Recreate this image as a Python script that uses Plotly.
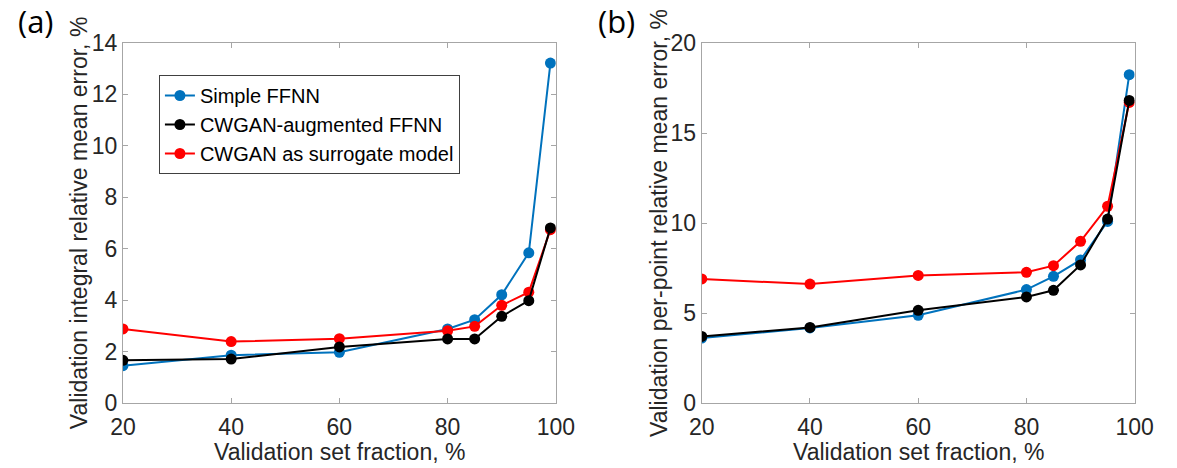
import plotly.graph_objects as go

x_frac = [20, 40, 60, 80, 85, 90, 95, 99]

# (a) Validation integral relative mean error, %
a_simple = [1.45, 1.86, 1.97, 2.88, 3.24, 4.21, 5.84, 13.22]
a_aug = [1.66, 1.71, 2.18, 2.49, 2.49, 3.37, 3.98, 6.81]
a_surr = [2.88, 2.39, 2.50, 2.81, 2.98, 3.80, 4.31, 6.74]

# (b) Validation per-point relative mean error, %
b_simple = [3.61, 4.17, 4.87, 6.30, 7.04, 7.95, 10.09, 18.24]
b_aug = [3.70, 4.20, 5.15, 5.89, 6.26, 7.67, 10.22, 16.81]
b_surr = [6.89, 6.61, 7.09, 7.26, 7.63, 8.98, 10.93, 16.70]

names = ["Simple FFNN", "CWGAN-augmented FFNN", "CWGAN as surrogate model"]
colors = ["#0072BD", "#000000", "#FF0000"]

fig = go.Figure()

FONT = "Liberation Sans"

def add_series(xaxis, yaxis, ys, showlegend):
    # draw order: simple, surrogate, augmented
    for idx in [0, 2, 1]:
        fig.add_trace(go.Scatter(
            x=x_frac, y=ys[idx], name=names[idx], mode="lines+markers",
            line=dict(color=colors[idx], width=2),
            marker=dict(color=colors[idx], size=11, symbol="circle"),
            xaxis=xaxis, yaxis=yaxis, showlegend=showlegend,
            legendrank=[1, 2, 3][idx],
        ))

add_series("x", "y", [a_simple, a_aug, a_surr], True)
add_series("x2", "y2", [b_simple, b_aug, b_surr], False)

W, H = 1177, 468
axcol = "#a6a6a6"
tickfont = dict(family=FONT, size=23, color="#262626")

common_x = dict(range=[20, 100], tickvals=[20, 40, 60, 80, 100], ticks="inside", ticklen=5,
                tickcolor=axcol, showline=True, linecolor=axcol, linewidth=1, mirror="allticks",
                showgrid=False, zeroline=False, tickfont=tickfont, ticklabelstandoff=3)
common_y = dict(ticks="inside", ticklen=5, tickcolor=axcol, showline=True, linecolor=axcol,
                linewidth=1, mirror="allticks", showgrid=False, zeroline=False, tickfont=tickfont)

fig.update_layout(
    width=W, height=H,
    paper_bgcolor="white", plot_bgcolor="white",
    margin=dict(l=0, r=0, t=43, b=65),
    xaxis=dict(domain=[113 / W, 558 / W], anchor="y", **common_x),
    yaxis=dict(domain=[0, 1], anchor="x", range=[0, 14], tickvals=list(range(0, 15, 2)), **common_y),
    xaxis2=dict(domain=[708 / W, 1153 / W], anchor="y2", **common_x),
    yaxis2=dict(domain=[0, 1], anchor="x2", range=[0, 20], tickvals=[0, 5, 10, 15, 20], **common_y),
    showlegend=True,
    legend=dict(x=150 / W, y=1 - (75 - 43) / 360, xanchor="left", yanchor="top",
                xref="paper", yref="paper",
                bgcolor="white", bordercolor="#404040", borderwidth=1,
                font=dict(family=FONT, size=20, color="#000000"),
                itemwidth=30, tracegroupgap=0),
    font=dict(family=FONT, color="#262626"),
)

TF = dict(family=FONT, size=23, color="#262626")
annots = [
    dict(text="Validation set fraction, %", x=(113 + 558) / 2 / W, y=-(452 - 403) / 360, xref="paper", yref="paper",
         showarrow=False, font=TF, xanchor="center", yanchor="middle"),
    dict(text="Validation set fraction, %", x=(708 + 1153) / 2 / W, y=-(452 - 403) / 360, xref="paper", yref="paper",
         showarrow=False, font=TF, xanchor="center", yanchor="middle"),
    dict(text="Validation integral relative mean error, %", x=68 / W, y=0.5, xref="paper", yref="paper",
         showarrow=False, textangle=-90, font=TF, xanchor="center", yanchor="middle"),
    dict(text="Validation per-point relative mean error, %", x=664 / W, y=0.5, xref="paper", yref="paper",
         showarrow=False, textangle=-90, font=TF, xanchor="center", yanchor="middle"),
    dict(text="(a)", x=24 / W, y=1 + (43 - 21) / 360, xref="paper", yref="paper", showarrow=False,
         font=dict(family="Open Sans", size=31, color="#000000"), xanchor="center", yanchor="middle"),
    dict(text="(b)", x=620 / W, y=1 + (43 - 21) / 360, xref="paper", yref="paper", showarrow=False,
         font=dict(family="Open Sans", size=31, color="#000000"), xanchor="center", yanchor="middle"),
]
fig.update_layout(annotations=annots)

fig.write_html("out.html", config={"displayModeBar": False})

# remove the default body margin so the figure sits at the page's top-left corner
with open("out.html", "r", encoding="utf-8") as f:
    html = f.read()
html = html.replace("<body>", '<body style="margin:0;padding:0;">', 1)
with open("out.html", "w", encoding="utf-8") as f:
    f.write(html)
